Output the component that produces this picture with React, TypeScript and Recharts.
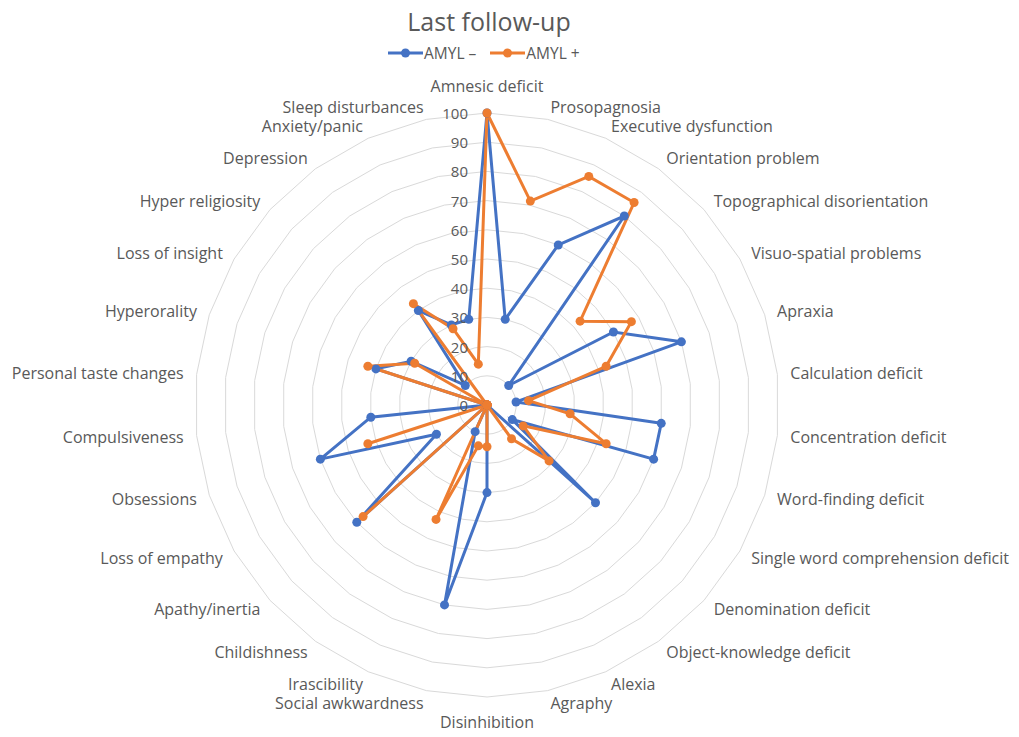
import { PolarAngleAxis, PolarGrid, PolarRadiusAxis, Radar, RadarChart } from 'recharts'

const categories = [
  'Amnesic deficit',
  'Prosopagnosia',
  'Executive dysfunction',
  'Orientation problem',
  'Topographical disorientation',
  'Visuo-spatial problems',
  'Apraxia',
  'Calculation deficit',
  'Concentration deficit',
  'Word-finding deficit',
  'Single word comprehension deficit',
  'Denomination deficit',
  'Object-knowledge deficit',
  'Alexia',
  'Agraphy',
  'Disinhibition',
  'Social awkwardness',
  'Irascibility',
  'Childishness',
  'Apathy/inertia',
  'Loss of empathy',
  'Obsessions',
  'Compulsiveness',
  'Personal taste changes',
  'Hyperorality',
  'Loss of insight',
  'Hyper religiosity',
  'Depression',
  'Anxiety/panic',
  'Sleep disturbances',
]

// AMYL – (blue)
const amylNeg = [
  100, 30, 60, 80, 10, 50, 70, 10, 60, 60, 10, 50, 0, 0, 0,
  30, 70, 10, 0, 60, 20, 60, 40, 0, 40, 30, 10, 40, 30, 30,
]

// AMYL + (orange)
const amylPos = [
  100, 71.4, 85.7, 85.7, 42.9, 57.1, 42.9, 14.3, 28.6, 42.9, 14.3, 28.6, 14.3, 0, 0,
  14.3, 14.3, 42.9, 0, 57.1, 0, 42.9, 0, 0, 42.9, 28.6, 0, 42.9, 28.6, 14.3,
]

const radiusTicks = [0, 10, 20, 30, 40, 50, 60, 70, 80, 90, 100]

const BLUE = '#4472C4'
const ORANGE = '#ED7D31'
const TEXT = '#595959'
const FONT = '"Open Sans", "Noto Sans", sans-serif'

const CX = 487
const CY = 405
const OUTER = 292
const LABEL_R = 305

const data = categories.map((name, i) => ({
  name,
  neg: amylNeg[i],
  pos: amylPos[i],
}))

function AngleTick(props: any) {
  const { payload } = props
  const i = categories.indexOf(payload.value)
  const rad = ((i * 360) / categories.length) * (Math.PI / 180)
  const s = Math.sin(rad)
  const c = Math.cos(rad)
  const x = CX + LABEL_R * s
  let y = CY - LABEL_R * c
  let anchor: 'start' | 'middle' | 'end' = 'middle'
  if (s > 0.01) anchor = 'start'
  else if (s < -0.01) anchor = 'end'
  else y += c > 0 ? -14 : 12
  return (
    <text x={x} y={y} textAnchor={anchor} dominantBaseline="central" fontSize={16} fill={TEXT} fontFamily={FONT}>
      {payload.value}
    </text>
  )
}

function RadiusTick(props: any) {
  const { x, y, payload } = props
  return (
    <text x={x - 19} y={y} textAnchor="end" dominantBaseline="central" fontSize={15} fill={TEXT} fontFamily={FONT}>
      {payload.value}
    </text>
  )
}

const makeDot = (color: string) => (props: any) => {
  const { cx, cy, index } = props
  return <circle key={`dot-${color}-${index}`} cx={cx} cy={cy} r={4.5} fill={color} stroke="none" />
}

function LegendItem({ color, label }: { color: string; label: string }) {
  return (
    <div style={{ display: 'flex', alignItems: 'center' }}>
      <svg width={35} height={12}>
        <line x1={0} y1={6} x2={35} y2={6} stroke={color} strokeWidth={3} />
        <circle cx={17.5} cy={6} r={4.5} fill={color} />
      </svg>
      <span style={{ fontSize: 15.5, color: TEXT, marginLeft: 1 }}>{label}</span>
    </div>
  )
}

export default function App() {
  return (
    <div style={{ position: 'relative', width: 1019, height: 737, margin: -8, background: '#fff', fontFamily: FONT }}>
      <div
        style={{
          position: 'absolute',
          top: 5,
          left: 0,
          width: 978,
          textAlign: 'center',
          fontSize: 25,
          lineHeight: '32px',
          color: TEXT,
        }}
      >
        Last follow-up
      </div>
      <div style={{ position: 'absolute', top: 43, left: 388, display: 'flex', gap: 14, height: 20, alignItems: 'center' }}>
        <LegendItem color={BLUE} label="AMYL –" />
        <LegendItem color={ORANGE} label="AMYL +" />
      </div>
      <RadarChart
        width={1019}
        height={737}
        data={data}
        cx={CX}
        cy={CY}
        outerRadius={OUTER}
        margin={{ top: 0, right: 0, bottom: 0, left: 0 }}
      >
        <PolarGrid gridType="polygon" radialLines={false} stroke="#D9D9D9" strokeWidth={1} />
        <PolarAngleAxis dataKey="name" tick={<AngleTick />} tickLine={false} axisLine={false} />
        <PolarRadiusAxis
          angle={90}
          domain={[0, 100]}
          ticks={radiusTicks}
          tickCount={11}
          axisLine={false}
          tickLine={false}
          tick={<RadiusTick />}
        />
        <Radar
          name="AMYL –"
          dataKey="neg"
          stroke={BLUE}
          strokeWidth={3}
          fill="none"
          fillOpacity={0}
          dot={makeDot(BLUE)}
          isAnimationActive={false}
        />
        <Radar
          name="AMYL +"
          dataKey="pos"
          stroke={ORANGE}
          strokeWidth={3}
          fill="none"
          fillOpacity={0}
          dot={makeDot(ORANGE)}
          isAnimationActive={false}
        />
      </RadarChart>
    </div>
  )
}
